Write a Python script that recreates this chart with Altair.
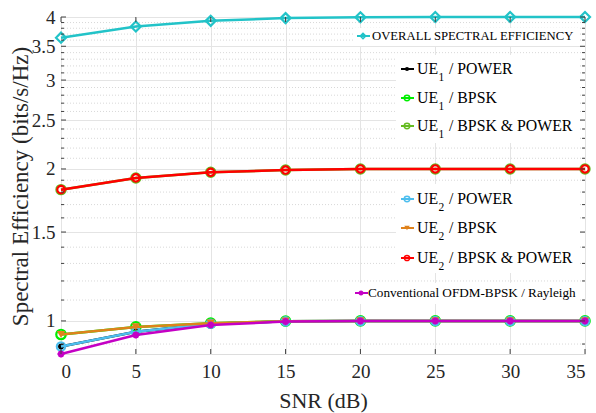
import altair as alt
import pandas as pd

# ---------------- data ----------------
snr = [0, 5, 10, 15, 20, 25, 30, 35]
overall = [3.64, 3.83, 3.93, 3.98, 3.995, 4.0, 4.0, 4.0]
ue1_power = [0.89, 0.952, 0.987, 0.998, 1.0, 1.0, 1.0, 1.0]
ue1_bpsk = [0.94, 0.973, 0.99, 0.999, 1.0, 1.0, 1.0, 1.0]
ue1_bpsk_power = [1.82, 1.92, 1.97, 1.99, 2.0, 2.0, 2.0, 2.0]
ue2_power = [0.89, 0.952, 0.987, 0.998, 1.0, 1.0, 1.0, 1.0]
ue2_bpsk = [0.94, 0.973, 0.99, 0.999, 1.0, 1.0, 1.0, 1.0]
ue2_bpsk_power = [1.82, 1.92, 1.97, 1.99, 2.0, 2.0, 2.0, 2.0]
conventional = [0.86, 0.938, 0.982, 0.997, 1.0, 1.0, 1.0, 1.0]

y_major = [1, 1.5, 2, 2.5, 3, 3.5, 4]
y_minor = [round(0.9 + 0.1 * i, 1) for i in range(31)]

ASTER = "M-1,0L1,0M0,-1L0,1M-0.7,-0.7L0.7,0.7M-0.7,0.7L0.7,-0.7"

# name, values, color, shape, filled, size
series = [
    ("OVERALL SPECTRAL EFFICIENCY", overall, "#22c3c8", "diamond", False, 100),
    ("UE1 / POWER", ue1_power, "#000000", "circle", True, 35),
    ("UE1 / BPSK", ue1_bpsk, "#00ee00", "circle", False, 90),
    ("UE1 / BPSK & POWER", ue1_bpsk_power, "#66bb22", "circle", False, 85),
    ("UE2 / POWER", ue2_power, "#4dbeee", "circle", False, 70),
    ("UE2 / BPSK", ue2_bpsk, "#df821c", "triangle-down", True, 70),
    ("UE2 / BPSK & POWER", ue2_bpsk_power, "#ff0000", "circle", False, 55),
    ("Conventional OFDM-BPSK / Rayleigh", conventional, "#c400c4", ASTER, False, 50),
]

W, H = 524, 337
FONT = "Liberation Serif, Times New Roman, serif"

xscale = alt.Scale(domain=[0, 35], nice=False, zero=False)
yscale = alt.Scale(type="log", domain=[0.86, 4], nice=False)

xaxis = alt.Axis(values=snr, title="SNR (dB)", grid=True, gridColor="#e4e4e4",
                 ticks=False, domain=False, labelFont=FONT, labelFontSize=19,
                 labelColor="#262626", labelPadding=8, titleFont=FONT,
                 titleFontSize=22, titleFontWeight="normal", titleColor="#262626",
                 titleX=W / 2, titleY=46, titleBaseline="middle")
yaxis = alt.Axis(values=y_major, format=".1~f", title="Spectral Efficiency (bits/s/Hz)",
                 grid=True, gridColor="#e4e4e4", ticks=False, domain=False,
                 labelFont=FONT, labelFontSize=19, labelColor="#262626",
                 labelPadding=6, titleFont=FONT, titleFontSize=23,
                 titleFontWeight="normal", titleColor="#262626",
                 titleAngle=270, titleX=-41, titleY=169, titleAlign="center",
                 titleBaseline="middle")

X = alt.X("s:Q", scale=xscale, axis=xaxis)
Y = alt.Y("v:Q", scale=yscale, axis=yaxis)

layers = []

# minor dotted grid
minor_df = pd.DataFrame({"v": [m for m in y_minor if m not in y_major]})
layers.append(alt.Chart(minor_df).mark_rule(color="#d8d8d8", strokeDash=[1, 2],
                                            strokeWidth=1).encode(
    y=Y, x=alt.value(0), x2=alt.value(W)))

# data
for name, vals, color, shape, filled, size in series:
    df = pd.DataFrame({"s": snr, "v": vals})
    base = alt.Chart(df)
    layers.append(base.mark_line(color=color, strokeWidth=2.5).encode(x=X, y=Y))
    layers.append(base.mark_point(color=color, shape=shape, filled=filled,
                                  size=size, strokeWidth=2.2, opacity=1).encode(x=X, y=Y))

one = pd.DataFrame({"a": [0]})


def box(x1, x2, y1, y2):
    return alt.Chart(one).mark_rect(color="white").encode(
        x=alt.value(x1), x2=alt.value(x2), y=alt.value(y1), y2=alt.value(y2))


layers += [box(294, 517, 11, 29), box(335, 519, 38, 126),
           box(335, 519, 167, 256), box(291, 517, 266, 287)]


def sym(idx, lx1, lx2, mx, y):
    name, vals, color, shape, filled, size = series[idx]
    out = [alt.Chart(one).mark_rule(color=color, strokeWidth=2).encode(
        x=alt.value(lx1), x2=alt.value(lx2), y=alt.value(y))]
    out.append(alt.Chart(one).mark_point(color=color, shape=shape, filled=filled,
                                         size=min(size, 60) * 0.5, strokeWidth=1.5,
                                         opacity=1).encode(
        x=alt.value(mx), y=alt.value(y)))
    return out


def txt(s, x, y, size):
    return alt.Chart(one).mark_text(align="left", baseline="middle", font=FONT,
                                    fontSize=size, color="#000000").encode(
        x=alt.value(x), y=alt.value(y), text=alt.value(s))


# legend 1
layers += sym(0, 296, 309, 302, 19)
layers.append(txt("OVERALL SPECTRAL EFFICIENCY", 311, 19, 12.7))

# legend UE items
ue_rows = [(1, "1", "/ POWER", 52), (2, "1", "/ BPSK", 81), (3, "1", "/ BPSK & POWER", 109),
           (4, "2", "/ POWER", 182), (5, "2", "/ BPSK", 211), (6, "2", "/ BPSK & POWER", 241)]
for idx, sub, rest, y in ue_rows:
    layers += sym(idx, 340, 353, 346, y)
    layers.append(txt("UE", 356, y, 15.8))
    layers.append(txt(sub, 377.5, y + 9, 11.5))
    layers.append(txt(rest, 388, y, 15.8))

# legend conventional
layers += sym(7, 294, 307, 300, 276)
layers.append(txt("Conventional OFDM-BPSK / Rayleigh", 307, 276, 13.2))

# inward ticks
TC = "#404040"
maj_df = pd.DataFrame({"v": y_major})
min_df = minor_df
layers.append(alt.Chart(maj_df).mark_rule(color=TC).encode(y=Y, x=alt.value(0), x2=alt.value(5)))
layers.append(alt.Chart(maj_df).mark_rule(color=TC).encode(y=Y, x=alt.value(W), x2=alt.value(W - 5)))
layers.append(alt.Chart(min_df).mark_rule(color=TC).encode(y=Y, x=alt.value(0), x2=alt.value(3)))
layers.append(alt.Chart(min_df).mark_rule(color=TC).encode(y=Y, x=alt.value(W), x2=alt.value(W - 3)))
xt_df = pd.DataFrame({"s": snr})
layers.append(alt.Chart(xt_df).mark_rule(color=TC).encode(x=X, y=alt.value(H), y2=alt.value(H - 5)))
layers.append(alt.Chart(xt_df).mark_rule(color=TC).encode(x=X, y=alt.value(0), y2=alt.value(5)))

chart = alt.layer(*layers).properties(
    width=W, height=H,
    autosize=alt.AutoSizeParams(type="none"),
    padding={"left": 61, "top": 17, "right": 11, "bottom": 59},
).configure_view(stroke="#555555", strokeWidth=1).configure(
    background="white"
).configure_axis(labelFont=FONT, titleFont=FONT).configure_text(font=FONT)

chart.save("out.html", embed_options={"renderer": "svg", "actions": False})
